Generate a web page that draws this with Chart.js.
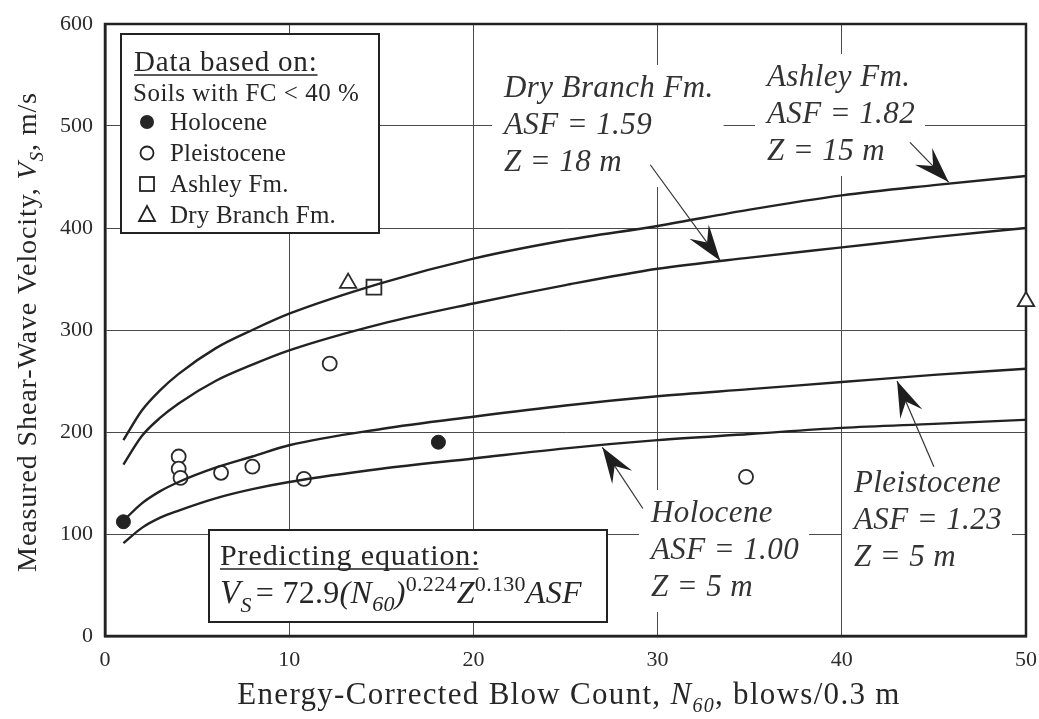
<!DOCTYPE html>
<html>
<head>
<meta charset="utf-8">
<script src="https://cdn.jsdelivr.net/npm/chart.js@4.4.1/dist/chart.umd.min.js"></script>
<style>
  html, body { margin: 0; padding: 0; background: #ffffff; }
  #wrap { width: 1039px; height: 719px; }
</style>
</head>
<body>
<div id="wrap"><canvas id="c" width="1039" height="719"></canvas></div>
<script>
// ---------- DATA ----------
const xTicks = [0, 10, 20, 30, 40, 50];
const yTicks = [0, 100, 200, 300, 400, 500, 600];

// Predicting-equation curves, read at these N60 values
const curveN        = [1, 2, 3, 4, 6, 8, 10, 15, 20, 25, 30, 35, 40, 45, 50];
const holoceneCurve = [91, 106, 116, 123, 135, 144, 151, 164, 174, 184, 192, 198, 204, 208, 212];
const pleistoCurve  = [113, 130, 142, 151, 165, 176, 187, 203, 215, 226, 235, 242, 249, 256, 262];
const dryBrCurve    = [168, 196, 214, 228, 250, 266, 280, 306, 326, 344, 360, 371, 381, 391, 400];
const ashleyCurve   = [192, 221, 241, 257, 282, 300, 316, 346, 370, 388, 402, 418, 432, 442, 451];

// Measured points
const holoceneN = [1.0, 18.1];
const holoceneV = [112, 190];
const pleistoN  = [4.0, 4.0, 4.1, 6.3, 8.0, 10.8, 12.2, 34.8];
const pleistoV  = [176, 164, 155, 160, 166, 154, 267, 156];
const ashleyN   = [14.6];
const ashleyV   = [342];
const dryBrN    = [13.2, 50];
const dryBrV    = [346, 328];

const legendHeader = 'Data based on:';
const legendSub = 'Soils with FC < 40 %';
const legendNames = ['Holocene', 'Pleistocene', 'Ashley Fm.', 'Dry Branch Fm.'];

// Curve labels: [lines], arrow tail/tip in data units
const curveNotes = [
  { lines: ['Dry Branch Fm.', 'ASF = 1.59', 'Z = 18 m'], x: 504, y: 89,  tail: [29.6, 462], tip: [33.4, 368] },
  { lines: ['Ashley Fm.', 'ASF = 1.82', 'Z = 15 m'],     x: 767, y: 78,  tail: [43.7, 484], tip: [45.8, 445] },
  { lines: ['Holocene', 'ASF = 1.00', 'Z = 5 m'],        x: 651, y: 514, tail: [29.2, 125], tip: [27.0, 185] },
  { lines: ['Pleistocene', 'ASF = 1.23', 'Z = 5 m'],     x: 854, y: 484, tail: [45.0, 166], tip: [43.0, 250] }
];

// ---------- helpers ----------
const SERIF = '"Liberation Serif", "Times New Roman", serif';
const INK = '#262626';
function pts(xs, ys) { return xs.map((x, i) => ({ x: x, y: ys[i] })); }
function fontStr(size, italic) { return (italic ? 'italic ' : '') + size + 'px ' + SERIF; }
function setLS(ctx, v) { if ('letterSpacing' in ctx) ctx.letterSpacing = (v || 0) + 'px'; }
function richWidth(ctx, parts, ls) {
  let w = 0;
  setLS(ctx, ls);
  parts.forEach(p => { ctx.font = fontStr(p.size, p.italic); w += ctx.measureText(p.t).width + (p.kern || 0); });
  return w;
}
function drawRich(ctx, x, y, parts, align, ls) {
  const w = richWidth(ctx, parts, ls);
  let cx = align === 'center' ? x - w / 2 : x;
  ctx.textAlign = 'left';
  ctx.textBaseline = 'alphabetic';
  setLS(ctx, ls);
  parts.forEach(p => {
    ctx.font = fontStr(p.size, p.italic);
    ctx.fillText(p.t, cx, y + (p.dy || 0));
    cx += ctx.measureText(p.t).width + (p.kern || 0);
  });
  setLS(ctx, 0);
}
function arrowHead(ctx, x1, y1, x2, y2, len, wid) {
  const a = Math.atan2(y2 - y1, x2 - x1);
  ctx.save();
  ctx.translate(x2, y2);
  ctx.rotate(a);
  ctx.beginPath();
  ctx.moveTo(0, 0);
  ctx.lineTo(-len, -wid / 2);
  ctx.lineTo(-len * 0.62, 0);
  ctx.lineTo(-len, wid / 2);
  ctx.closePath();
  ctx.fill();
  ctx.restore();
}

const decor = {
  id: 'decor',
  beforeDatasetsDraw(chart) {
    const ctx = chart.ctx, a = chart.chartArea;
    ctx.save();
    // white boxes behind curve labels (hide grid lines)
    ctx.font = fontStr(31, true);
    setLS(ctx, 0.4);
    curveNotes.forEach(n => {
      let w = 0;
      n.lines.forEach(l => { w = Math.max(w, ctx.measureText(l).width); });
      ctx.fillStyle = '#fff';
      ctx.fillRect(n.x - 12, n.y - 24, w + 22, 37 * (n.lines.length - 1) + 48);
    });
    setLS(ctx, 0);
    // legend box
    ctx.fillStyle = '#fff';
    ctx.fillRect(121, 34, 258, 199);
    // equation box
    ctx.fillRect(209, 530, 398, 92);
    // plot frame
    ctx.strokeStyle = '#222';
    ctx.lineWidth = 2.5;
    ctx.strokeRect(a.left, a.top, a.right - a.left, a.bottom - a.top);
    ctx.restore();
  },
  afterDatasetsDraw(chart) {
    const ctx = chart.ctx, a = chart.chartArea;
    const xs = chart.scales.x, ys = chart.scales.y;
    ctx.save();
    ctx.fillStyle = INK;
    ctx.strokeStyle = INK;

    // curve labels
    ctx.font = fontStr(31, true);
    setLS(ctx, 0.4);
    ctx.textAlign = 'left';
    ctx.textBaseline = 'middle';
    ctx.fillStyle = '#333';
    curveNotes.forEach(n => {
      n.lines.forEach((l, i) => ctx.fillText(l, n.x, n.y + 37 * i));
    });
    setLS(ctx, 0);
    // arrows
    ctx.fillStyle = '#1e1e1e';
    ctx.strokeStyle = '#333';
    ctx.lineWidth = 1.2;
    curveNotes.forEach(n => {
      const x1 = xs.getPixelForValue(n.tail[0]), y1 = ys.getPixelForValue(n.tail[1]);
      const x2 = xs.getPixelForValue(n.tip[0]),  y2 = ys.getPixelForValue(n.tip[1]);
      ctx.beginPath(); ctx.moveTo(x1, y1); ctx.lineTo(x2, y2); ctx.stroke();
      arrowHead(ctx, x1, y1, x2, y2, 36, 24);
    });

    // legend
    ctx.strokeStyle = '#222';
    ctx.lineWidth = 2;
    ctx.strokeRect(121, 34, 258, 199);
    ctx.fillStyle = INK;
    ctx.textAlign = 'left';
    ctx.textBaseline = 'alphabetic';
    ctx.font = fontStr(29, false);
    setLS(ctx, 0.8);
    ctx.fillText(legendHeader, 134, 71);
    const hw = ctx.measureText(legendHeader).width;
    ctx.lineWidth = 1.3;
    ctx.beginPath(); ctx.moveTo(134, 75); ctx.lineTo(134 + hw, 75); ctx.stroke();
    ctx.font = fontStr(25, false);
    setLS(ctx, 0.5);
    ctx.fillText(legendSub, 133, 101);
    const ly = [122, 153, 184, 215];
    ctx.font = fontStr(25, false);
    setLS(ctx, 0.2);
    legendNames.forEach((nm, i) => {
      ctx.fillStyle = INK;
      ctx.fillText(nm, 170, ly[i] + 8);
    });
    setLS(ctx, 0);
    ctx.lineWidth = 1.8;
    // markers
    ctx.beginPath(); ctx.arc(147, ly[0], 7, 0, Math.PI * 2); ctx.fill();
    ctx.beginPath(); ctx.arc(147, ly[1], 6.5, 0, Math.PI * 2); ctx.stroke();
    ctx.strokeRect(140, ly[2] - 7, 14, 14);
    ctx.beginPath(); ctx.moveTo(147, ly[3] - 9); ctx.lineTo(155, ly[3] + 6); ctx.lineTo(139, ly[3] + 6); ctx.closePath(); ctx.stroke();

    // equation box
    ctx.lineWidth = 2;
    ctx.strokeRect(209, 530, 398, 92);
    ctx.font = fontStr(30, false);
    setLS(ctx, 0.9);
    ctx.fillText('Predicting equation:', 220, 565);
    const pw = ctx.measureText('Predicting equation:').width;
    setLS(ctx, 0);
    ctx.lineWidth = 1.3;
    ctx.beginPath(); ctx.moveTo(220, 569); ctx.lineTo(220 + pw - 2, 569); ctx.stroke();
    drawRich(ctx, 220, 603, [
      { t: 'V', size: 33, italic: true },
      { t: 'S', size: 22, italic: true, dy: 9, kern: 4 },
      { t: '= 72.9', size: 32, italic: false },
      { t: '(N', size: 32, italic: true },
      { t: '60', size: 22, italic: true, dy: 8 },
      { t: ')', size: 32, italic: true },
      { t: '0.224', size: 22, italic: false, dy: -12 },
      { t: 'Z', size: 32, italic: true },
      { t: '0.130', size: 22, italic: false, dy: -12 },
      { t: 'ASF', size: 32, italic: true }
    ], 'left', 0.3);

    // axis titles
    drawRich(ctx, 569, 704, [
      { t: 'Energy-Corrected Blow Count, ', size: 31, italic: false },
      { t: 'N', size: 31, italic: true },
      { t: '60', size: 20, italic: true, dy: 8 },
      { t: ', blows/0.3 m', size: 31, italic: false }
    ], 'center', 1.3);
    ctx.save();
    ctx.translate(36, 332);
    ctx.rotate(-Math.PI / 2);
    drawRich(ctx, 0, 0, [
      { t: 'Measured Shear-Wave Velocity, ', size: 28, italic: false },
      { t: 'V', size: 28, italic: true },
      { t: 'S', size: 19, italic: true, dy: 7 },
      { t: ', m/s', size: 28, italic: false }
    ], 'center', 0.9);
    ctx.restore();
    ctx.restore();
  }
};

const curveStyle = {
  type: 'line', showLine: true, pointRadius: 0, borderColor: '#222', borderWidth: 2.4,
  tension: 0.4, cubicInterpolationMode: 'monotone', fill: false
};

new Chart(document.getElementById('c'), {
  type: 'scatter',
  data: {
    datasets: [
      Object.assign({ label: 'Ashley curve', data: pts(curveN, ashleyCurve) }, curveStyle),
      Object.assign({ label: 'Dry Branch curve', data: pts(curveN, dryBrCurve) }, curveStyle),
      Object.assign({ label: 'Pleistocene curve', data: pts(curveN, pleistoCurve) }, curveStyle),
      Object.assign({ label: 'Holocene curve', data: pts(curveN, holoceneCurve) }, curveStyle),
      { label: legendNames[0], data: pts(holoceneN, holoceneV), pointStyle: 'circle', pointRadius: 7,
        backgroundColor: '#222', borderColor: '#222', borderWidth: 1 },
      { label: legendNames[1], data: pts(pleistoN, pleistoV), pointStyle: 'circle', pointRadius: 7,
        backgroundColor: '#fff', borderColor: '#2a2a2a', borderWidth: 1.8 },
      { label: legendNames[2], data: pts(ashleyN, ashleyV), pointStyle: 'rect', pointRadius: 10.5,
        backgroundColor: '#fff', borderColor: '#2a2a2a', borderWidth: 1.8 },
      { label: legendNames[3], data: pts(dryBrN, dryBrV), pointStyle: 'triangle', pointRadius: 9.5,
        backgroundColor: '#fff', borderColor: '#2a2a2a', borderWidth: 1.8, clip: false }
    ]
  },
  options: {
    responsive: false,
    animation: false,
    devicePixelRatio: 1,
    layout: { padding: { top: 24, right: 13, left: 0, bottom: 0 } },
    plugins: { legend: { display: false }, tooltip: { enabled: false }, title: { display: false } },
    scales: {
      x: {
        type: 'linear', min: xTicks[0], max: xTicks[xTicks.length - 1],
        afterBuildTicks: s => { s.ticks = xTicks.map(v => ({ value: v })); },
        afterFit: s => { s.height = 83; s.paddingLeft = 0; s.paddingRight = 0; },
        ticks: { font: { family: SERIF, size: 22 }, color: '#2b2b2b', padding: 11, maxRotation: 0 },
        grid: { color: '#4a4a4a', lineWidth: 1, drawTicks: false },
        border: { display: true, color: '#222', width: 2.5 },
        title: { display: false }
      },
      y: {
        type: 'linear', min: yTicks[0], max: yTicks[yTicks.length - 1],
        afterBuildTicks: s => { s.ticks = yTicks.map(v => ({ value: v })); },
        afterFit: s => { s.width = 105; s.paddingTop = 0; s.paddingBottom = 0; },
        ticks: { font: { family: SERIF, size: 22 }, color: '#2b2b2b', padding: 12 },
        grid: { color: '#4a4a4a', lineWidth: 1, drawTicks: false },
        border: { display: true, color: '#222', width: 2.5 },
        title: { display: false }
      }
    }
  },
  plugins: [decor]
});
</script>
</body>
</html>
